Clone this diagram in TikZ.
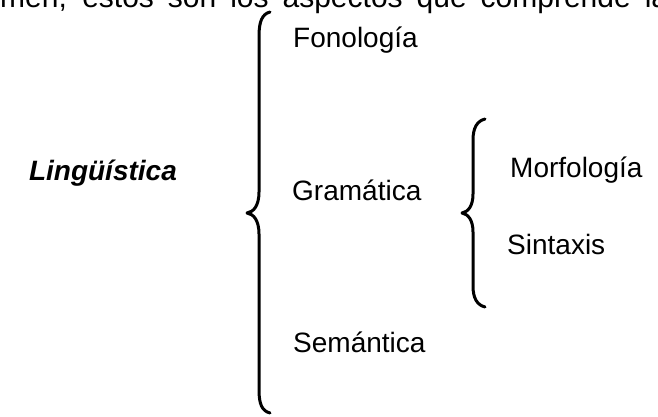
\documentclass[tikz,border=0pt]{standalone}
\usepackage{fontspec}
\setmainfont{Liberation Sans}
\begin{document}
\begin{tikzpicture}[x=1pt,y=-1pt,
  label/.style={anchor=base west,inner sep=0pt,font=\fontsize{28}{34}\selectfont},
  title/.style={anchor=base east,inner sep=0pt,font=\fontsize{28}{34}\selectfont\bfseries\itshape},
  bracket/.style={line width=3pt,line cap=round,line join=round}]
\useasboundingbox (0,0) rectangle (658,417);
\clip (0,0) rectangle (658,417);

% justified line of running text above the scheme
\node[label,font=\fontsize{30}{36}\selectfont] (intro) at (0,8)
  {\makebox[668pt][s]{men, estos son los aspectos que comprende la}};

% main term
\node[title] (ling) at (177,180) {Lingüística};

% large brace
\coordinate (bigtop) at (270,12);
\coordinate (bigtip) at (247,213);
\coordinate (bigbot) at (270,413);
\draw[bracket] (bigtop) .. controls (262,14) and (259,22) .. (259,36)
  -- (259,192) .. controls (259,205) and (254,212) .. (bigtip)
  .. controls (254,214) and (259,221) .. (259,234)
  -- (259,390) .. controls (259,404) and (262,411) .. (bigbot);

\node[label] (fon) at (293,48) {Fonología};
\node[label] (gram) at (292,200) {Gramática};
\node[label] (sem) at (293,352) {Semántica};

% small brace
\coordinate (smtop) at (485,119);
\coordinate (smtip) at (462,213);
\coordinate (smbot) at (485,307);
\draw[bracket] (smtop) .. controls (477,121) and (473,128) .. (473,140)
  -- (473,194) .. controls (473,206) and (468,212) .. (smtip)
  .. controls (468,214) and (473,220) .. (473,232)
  -- (473,286) .. controls (473,298) and (477,305) .. (smbot);

\node[label] (morf) at (510,177) {Morfología};
\node[label] (sint) at (507,254) {Sintaxis};
\end{tikzpicture}
\end{document}
